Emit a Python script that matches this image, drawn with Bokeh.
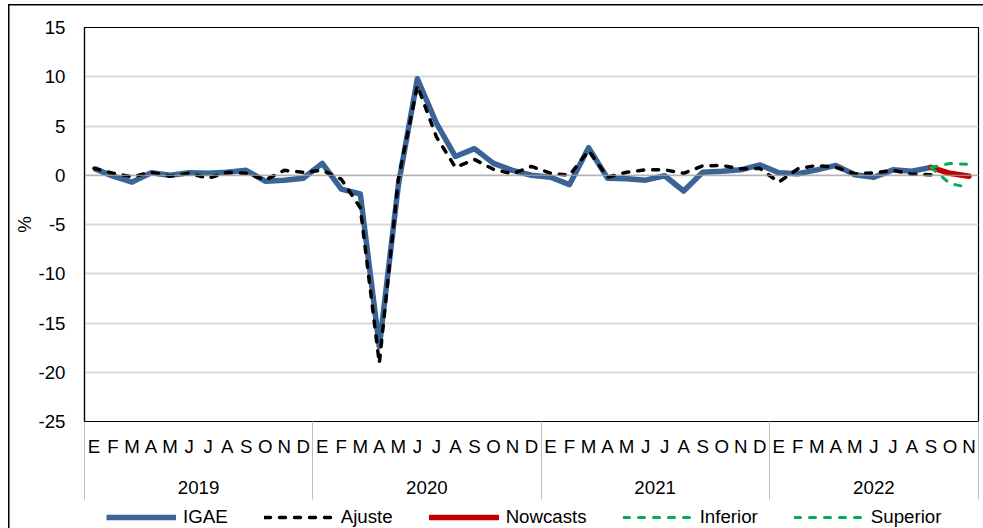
from bokeh.plotting import figure
from bokeh.layouts import column
from bokeh.models import Range1d, FixedTicker, LinearAxis, Legend, LegendItem, Span
from bokeh.embed import file_html
from bokeh.resources import INLINE

# ---------------- data ----------------
months = ["E", "F", "M", "A", "M", "J", "J", "A", "S", "O", "N", "D"]
years = ["2019", "2020", "2021", "2022"]
months_per_year = [12, 12, 12, 11]

igae = [
    0.7, -0.1, -0.7, 0.25, 0.0, 0.25, 0.2, 0.3, 0.5, -0.6, -0.5, -0.3,      # 2019
    1.2, -1.4, -1.9, -17.4, -1.0, 9.8, 5.3, 1.9, 2.7, 1.2, 0.5, 0.0,        # 2020
    -0.2, -0.95, 2.8, -0.3, -0.35, -0.5, -0.05, -1.6, 0.3, 0.4, 0.55, 1.05, # 2021
    0.25, 0.15, 0.55, 1.0, 0.05, -0.2, 0.55, 0.4, 0.8,                      # 2022
]
ajuste = [
    0.7, 0.2, -0.15, 0.3, -0.1, 0.2, -0.3, 0.3, 0.2, -0.5, 0.5, 0.3,
    0.5, -0.4, -3.3, -19.1, -0.4, 9.1, 3.9, 0.8, 1.6, 0.6, 0.15, 0.9,
    0.2, 0.0, 2.5, -0.2, 0.3, 0.55, 0.55, 0.2, 0.95, 1.0, 0.65, 0.7,
    -0.7, 0.65, 1.0, 0.8, 0.15, 0.25, 0.5, 0.1, 0.05,
]
nowcasts = [0.8, 0.2, -0.1]
inferior = [0.8, -0.85, -1.25]
superior = [0.8, 1.2, 1.1]

y_ticks = [-25, -20, -15, -10, -5, 0, 5, 10, 15]

# ---------------- derived positions ----------------
cat_labels = []
for cnt in months_per_year:
    cat_labels += months[:cnt]
n = len(cat_labels)
x_all = list(range(n))
x_igae = x_all[:len(igae)]
x_aj = x_all[:len(ajuste)]
start_now = len(igae) - 1
x_now = x_all[start_now:start_now + len(nowcasts)]

bounds = [-0.5]
centers = []
acc = 0
for cnt in months_per_year:
    centers.append(acc + (cnt - 1) / 2)
    acc += cnt
    bounds.append(acc - 0.5)

FONT = "Liberation Sans"
FS = "18.7px"

STY = dict(
    igae=dict(line_color="#3A6495", line_width=5.5, line_join="round"),
    ajuste=dict(line_color="black", line_width=3.5, line_dash="6 9", line_cap="round"),
    now=dict(line_color="#C00000", line_width=5.5, line_cap="round"),
    band=dict(line_color="#00B050", line_width=3, line_dash="6 9", line_cap="round"),
)

p = figure(width=983, height=502,
           x_range=Range1d(-0.5, n - 0.5), y_range=Range1d(y_ticks[0], y_ticks[-1]),
           output_backend="svg", toolbar_location=None,
           min_border_left=84, min_border_right=5, min_border_top=27, min_border_bottom=81)
p.outline_line_color = "black"
p.outline_line_width = 1.2
p.background_fill_color = "white"
p.border_fill_alpha = 0

# grid
p.xgrid.visible = False
p.ygrid.ticker = FixedTicker(ticks=y_ticks)
p.ygrid.grid_line_color = "#D9D9D9"
p.ygrid.grid_line_width = 2
p.add_layout(Span(location=0, dimension="width", line_color="#A6A6A6", line_width=1.2))

# y axis
ya = p.yaxis[0]
ya.ticker = FixedTicker(ticks=y_ticks)
ya.major_label_overrides = {t: str(t) for t in y_ticks}
ya.major_tick_line_color = None
ya.minor_tick_line_color = None
ya.major_tick_in = 0
ya.major_tick_out = 0
ya.axis_line_color = "black"
ya.axis_line_width = 1.2
ya.major_label_standoff = 19
ya.major_label_text_font = FONT
ya.major_label_text_font_size = FS
ya.major_label_text_color = "black"
ya.axis_label = "%"
ya.axis_label_text_font = FONT
ya.axis_label_text_font_size = FS
ya.axis_label_text_font_style = "normal"
ya.axis_label_text_color = "black"
ya.axis_label_standoff = 0

# month axis (minor ticks = year separators)
xa = p.xaxis[0]
xa.ticker = FixedTicker(ticks=x_all, minor_ticks=bounds)
xa.major_label_overrides = {i: lab for i, lab in enumerate(cat_labels)}
xa.major_tick_line_color = None
xa.major_tick_in = 0
xa.major_tick_out = 0
xa.minor_tick_in = 0
xa.minor_tick_out = 78
xa.minor_tick_line_color = "#BFBFBF"
xa.minor_tick_line_width = 1
xa.axis_line_color = "black"
xa.axis_line_width = 1.2
xa.major_label_standoff = -64
xa.major_label_text_font = FONT
xa.major_label_text_font_size = FS
xa.major_label_text_color = "black"

# year axis
yr = LinearAxis(ticker=FixedTicker(ticks=centers),
                major_label_overrides={float(c): y for c, y in zip(centers, years)},
                axis_line_color=None, major_tick_line_color=None, minor_tick_line_color=None,
                major_tick_in=0, major_tick_out=0,
                major_label_standoff=21, major_label_text_font=FONT,
                major_label_text_font_size=FS, major_label_text_color="black")
p.add_layout(yr, "below")

# series
p.line(x_igae, igae, **STY["igae"])
p.line(x_aj, ajuste, **STY["ajuste"])
p.line(x_now, nowcasts, **STY["now"])
p.line(x_now, inferior, **STY["band"])
p.line(x_now, superior, **STY["band"])

# legend strip: separate figure whose range hides its copies of the series
lg = figure(width=983, height=26, output_backend="svg", toolbar_location=None,
            x_axis_type=None, y_axis_type=None,
            x_range=Range1d(-0.5, n - 0.5), y_range=Range1d(1000, 1001),
            min_border_left=0, min_border_right=0, min_border_top=0, min_border_bottom=0)
lg.outline_line_color = None
lg.grid.visible = False
lg.border_fill_alpha = 0
lg.background_fill_alpha = 0
series = [("IGAE", x_igae, igae, "igae"), ("Ajuste", x_aj, ajuste, "ajuste"),
          ("Nowcasts", x_now, nowcasts, "now"), ("Inferior", x_now, inferior, "band"),
          ("Superior", x_now, superior, "band")]
items = []
for name, xs, ys, key in series:
    r = lg.line(xs, ys, **STY[key])
    items.append(LegendItem(label=name, renderers=[r]))
legend = Legend(items=items, orientation="horizontal", location=(22, 0),
                glyph_width=70, glyph_height=20, label_height=20, label_standoff=7, spacing=36,
                padding=2, margin=0, border_line_color=None, background_fill_alpha=0,
                label_text_font=FONT, label_text_font_size=FS, label_text_color="black")
lg.add_layout(legend, "center")

layout = column(p, lg, spacing=0,
                styles={"background-color": "white",
                        "box-shadow": "inset 8px 4px 0 0 white, inset 9.5px 5.5px 0 0 black"})

open("out.html", "w").write(file_html(layout, INLINE))
